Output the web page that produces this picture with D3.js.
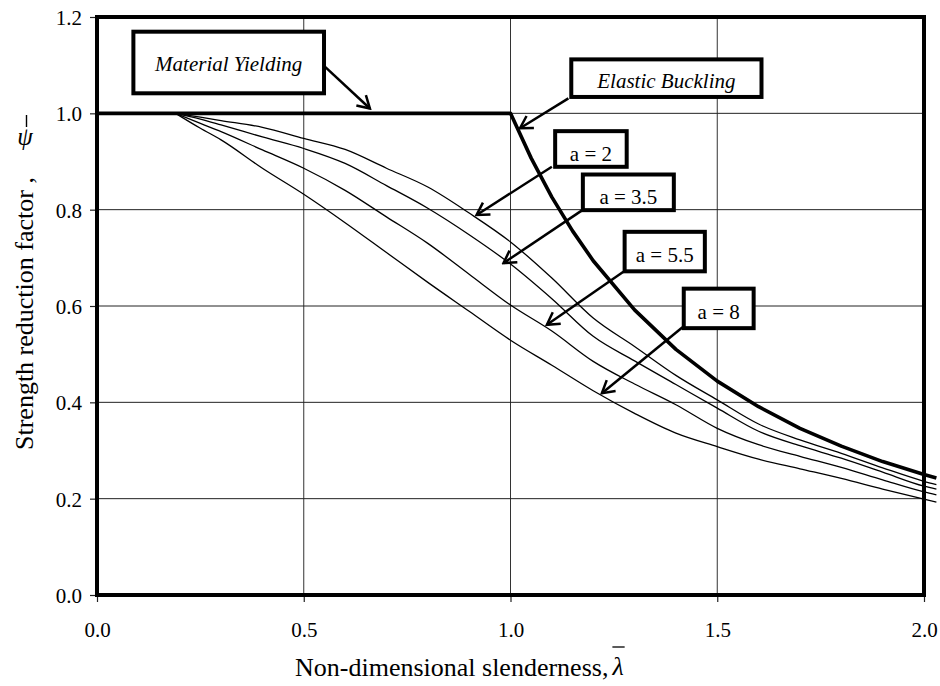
<!DOCTYPE html>
<html>
<head>
<meta charset="utf-8">
<style>
  body { margin: 0; background: #fff; }
  text { font-family: "Liberation Serif", "Times New Roman", serif; fill: #000; }
</style>
</head>
<body>
<svg></svg>
<script src="https://d3js.org/d3.v7.min.js"></script>
<script>
// slenderness values where the four design curves were read
const slenderness = [0.19, 0.25, 0.3, 0.4, 0.5, 0.6, 0.7, 0.8, 0.9, 1.0, 1.1, 1.2, 1.3, 1.4, 1.5, 1.6, 1.7, 1.8, 1.9, 2.0, 2.03];
const psiA2  = [1, 0.992, 0.985, 0.971, 0.948, 0.925, 0.886, 0.847, 0.793, 0.733, 0.658, 0.575, 0.516, 0.456, 0.405, 0.355, 0.322, 0.294, 0.264, 0.236, 0.229];
const psiA35 = [1, 0.988, 0.976, 0.951, 0.927, 0.896, 0.850, 0.803, 0.748, 0.687, 0.615, 0.537, 0.486, 0.437, 0.388, 0.340, 0.310, 0.284, 0.255, 0.226, 0.220];
const psiA55 = [1, 0.979, 0.962, 0.924, 0.886, 0.840, 0.785, 0.730, 0.666, 0.602, 0.548, 0.485, 0.438, 0.395, 0.346, 0.312, 0.288, 0.265, 0.239, 0.214, 0.208];
const psiA8  = [1, 0.969, 0.945, 0.886, 0.832, 0.773, 0.711, 0.649, 0.589, 0.529, 0.477, 0.424, 0.377, 0.336, 0.308, 0.282, 0.262, 0.242, 0.220, 0.199, 0.193];

// yielding plateau + elastic buckling curve
const slendernessE = [0, 1.0, 1.05, 1.1, 1.15, 1.2, 1.3, 1.4, 1.5, 1.6, 1.7, 1.8, 1.9, 2.0, 2.03];
const psiE = [1, 1, 0.907, 0.826, 0.756, 0.694, 0.592, 0.510, 0.444, 0.391, 0.346, 0.309, 0.277, 0.250, 0.243];

const xTicks = [0, 0.5, 1.0, 1.5, 2.0];
const yTicks = [0, 0.2, 0.4, 0.6, 0.8, 1.0, 1.2];

// callout boxes, in data units
const notes = [
  { label: "Material Yielding", italic: true, box: [0.088, 0.549, 1.1695, 1.0416], base: 1.0878, from: [0.551, 1.097], to: [0.660, 1.010] },
  { label: "Elastic Buckling", italic: true, box: [1.147, 1.607, 1.112, 1.034], base: 1.052, from: [1.140, 1.031], to: [1.023, 0.969] },
  { label: "a = 2", box: [1.108, 1.281, 0.963, 0.889], base: 0.901, from: [1.100, 0.889], to: [0.918, 0.789] },
  { label: "a = 3.5", box: [1.175, 1.395, 0.873, 0.799], base: 0.812, from: [1.172, 0.798], to: [0.983, 0.689] },
  { label: "a = 5.5", box: [1.276, 1.470, 0.754, 0.672], base: 0.692, from: [1.273, 0.671], to: [1.088, 0.561] },
  { label: "a = 8", box: [1.419, 1.588, 0.636, 0.554], base: 0.574, from: [1.416, 0.556], to: [1.221, 0.419] }
];

const width = 940, height = 686;
const plotL = 97, plotR = 924, plotT = 17, plotB = 595;

const svg = d3.select("svg").attr("width", width).attr("height", height);

const x = d3.scaleLinear().domain([0, 2]).range([plotL, plotR]);
const y = d3.scaleLinear().domain([0, 1.2]).range([plotB, plotT]);

// grid
svg.append("g").selectAll("line")
  .data(xTicks.filter(d => d > 0 && d < 2))
  .enter().append("line")
  .attr("x1", d => x(d)).attr("x2", d => x(d))
  .attr("y1", plotT).attr("y2", plotB)
  .attr("stroke", "#333").attr("stroke-width", 1);

svg.append("g").selectAll("line")
  .data(yTicks.filter(d => d > 0 && d < 1.2))
  .enter().append("line")
  .attr("x1", plotL).attr("x2", plotR)
  .attr("y1", d => y(d)).attr("y2", d => y(d))
  .attr("stroke", "#222").attr("stroke-width", 1);

// axes
const fmt = d3.format(".1f");
const yAxis = svg.append("g")
  .attr("transform", "translate(" + plotL + ",0)")
  .call(d3.axisLeft(y).tickValues(yTicks).tickFormat(fmt).tickSize(7).tickPadding(8));
const xAxis = svg.append("g")
  .attr("transform", "translate(0," + plotB + ")")
  .call(d3.axisBottom(x).tickValues(xTicks).tickFormat(fmt).tickSize(7).tickPadding(20));
[xAxis, yAxis].forEach(function(g) {
  g.select(".domain").remove();
  g.attr("font-size", 21).attr("font-family", "Liberation Serif, serif");
  g.selectAll(".tick line").attr("stroke", "#222").attr("stroke-width", 1.2);
});
yAxis.selectAll(".tick text").attr("dy", "0.36em");

// curves
const line = d3.line().x(d => x(d[0])).y(d => y(d[1]));
const smooth = d3.line().x(d => x(d[0])).y(d => y(d[1])).curve(d3.curveMonotoneX);
const series = [psiA2, psiA35, psiA55, psiA8];
svg.append("g").selectAll("path")
  .data(series)
  .enter().append("path")
  .attr("d", s => smooth(slenderness.map((l, i) => [l, s[i]])))
  .attr("fill", "none")
  .attr("stroke", "#000")
  .attr("stroke-width", 1.3);

svg.append("path")
  .attr("d", line(slendernessE.map((l, i) => [l, psiE[i]])))
  .attr("fill", "none")
  .attr("stroke", "#000")
  .attr("stroke-width", 3.6)
  .attr("stroke-linejoin", "round");

// plot frame
svg.append("rect")
  .attr("x", plotL).attr("y", plotT)
  .attr("width", plotR - plotL).attr("height", plotB - plotT)
  .attr("fill", "none").attr("stroke", "#000").attr("stroke-width", 4);

// arrowhead
svg.append("defs").append("marker")
  .attr("id", "arrow")
  .attr("markerUnits", "userSpaceOnUse")
  .attr("viewBox", "-2 -9 16 18")
  .attr("refX", 12).attr("refY", 0)
  .attr("markerWidth", 16).attr("markerHeight", 18)
  .attr("orient", "auto")
  .append("path")
  .attr("d", "M0,-7L12,0L0,7")
  .attr("fill", "none").attr("stroke", "#000").attr("stroke-width", 2.5);

const note = svg.append("g").selectAll("g").data(notes).enter().append("g");

note.append("line")
  .attr("x1", d => x(d.from[0])).attr("y1", d => y(d.from[1]))
  .attr("x2", d => x(d.to[0])).attr("y2", d => y(d.to[1]))
  .attr("stroke", "#000").attr("stroke-width", 2.5)
  .attr("marker-end", "url(#arrow)");

note.append("rect")
  .attr("x", d => x(d.box[0])).attr("y", d => y(d.box[2]))
  .attr("width", d => x(d.box[1]) - x(d.box[0]))
  .attr("height", d => y(d.box[3]) - y(d.box[2]))
  .attr("fill", "#fff").attr("stroke", "#000").attr("stroke-width", 4);

note.append("text")
  .attr("x", d => (x(d.box[0]) + x(d.box[1])) / 2)
  .attr("y", d => y(d.base))
  .attr("text-anchor", "middle")
  .style("font-size", "21px")
  .style("font-style", d => d.italic ? "italic" : "normal")
  .text(d => d.label);

// x title
const xt = svg.append("text")
  .attr("x", 295).attr("y", 676)
  .style("font-size", "26px")
  .text("Non-dimensional slenderness,");
const xEnd = 295 + xt.node().getComputedTextLength();
const lam = svg.append("text")
  .attr("x", xEnd + 4).attr("y", 675)
  .style("font-size", "26px").style("font-style", "italic")
  .text("λ");
const lb = lam.node().getBBox();
svg.append("line")
  .attr("x1", lb.x + 1).attr("x2", lb.x + lb.width + 1)
  .attr("y1", 647).attr("y2", 647)
  .attr("stroke", "#000").attr("stroke-width", 1.3);

// y title (the symbol stays upright, as in the original)
svg.append("text")
  .attr("transform", "rotate(-90)")
  .attr("x", -450).attr("y", 33)
  .style("font-size", "26px")
  .text("Strength reduction factor ,");
svg.append("text")
  .attr("x", 25).attr("y", 145)
  .attr("text-anchor", "middle")
  .style("font-size", "25px").style("font-style", "italic")
  .text("ψ");
svg.append("line")
  .attr("x1", 26.5).attr("x2", 26.5)
  .attr("y1", 115).attr("y2", 127)
  .attr("stroke", "#000").attr("stroke-width", 1.4);
</script>
</body>
</html>
